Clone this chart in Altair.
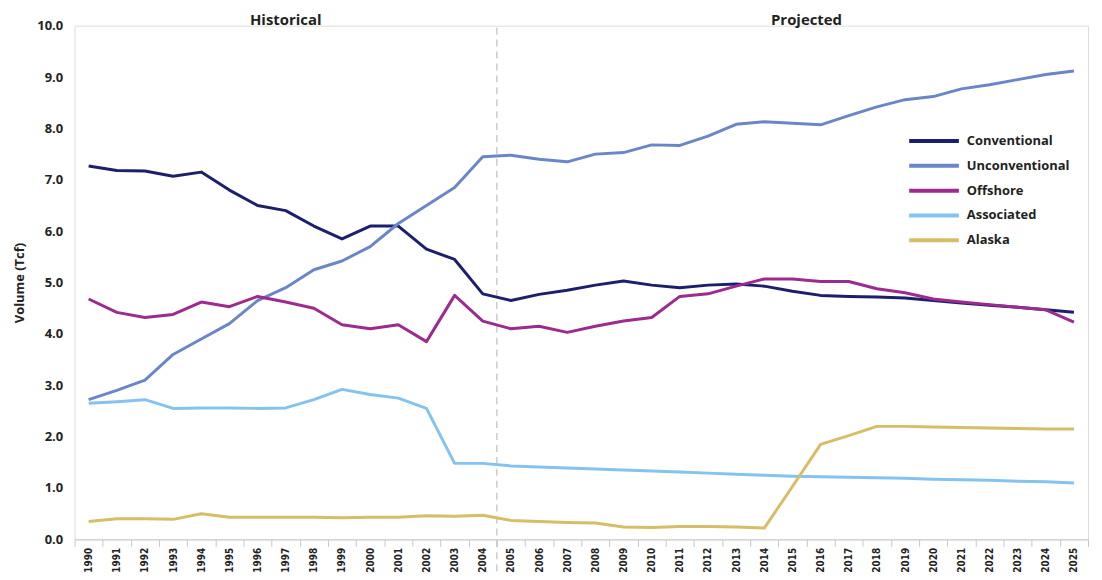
import altair as alt
import pandas as pd

years = [str(y) for y in range(1990, 2026)]

conventional = [7.27, 7.18, 7.17, 7.07, 7.15, 6.80, 6.50, 6.40, 6.10, 5.85, 6.10, 6.10,
                5.65, 5.45, 4.78, 4.65, 4.77, 4.85, 4.95, 5.03, 4.95, 4.90, 4.95, 4.97,
                4.93, 4.83, 4.75, 4.73, 4.72, 4.70, 4.65, 4.60, 4.56, 4.52, 4.47, 4.42]
unconventional = [2.72, 2.90, 3.10, 3.60, 3.90, 4.20, 4.65, 4.90, 5.25, 5.42, 5.70, 6.15,
                  6.50, 6.85, 7.45, 7.48, 7.40, 7.35, 7.50, 7.53, 7.68, 7.67, 7.85, 8.08,
                  8.13, 8.10, 8.07, 8.25, 8.42, 8.56, 8.62, 8.77, 8.85, 8.95, 9.05, 9.12]
offshore = [4.68, 4.42, 4.32, 4.38, 4.62, 4.53, 4.73, 4.62, 4.50, 4.18, 4.10, 4.18,
            3.85, 4.75, 4.25, 4.10, 4.15, 4.03, 4.15, 4.25, 4.32, 4.73, 4.78, 4.93,
            5.07, 5.07, 5.02, 5.02, 4.88, 4.80, 4.68, 4.62, 4.57, 4.52, 4.47, 4.23]
associated = [2.65, 2.68, 2.72, 2.55, 2.56, 2.56, 2.55, 2.56, 2.72, 2.92, 2.82, 2.75,
              2.55, 1.48, 1.48, 1.43, 1.41, 1.39, 1.37, 1.35, 1.33, 1.31, 1.29, 1.27,
              1.25, 1.23, 1.22, 1.21, 1.20, 1.19, 1.17, 1.16, 1.15, 1.13, 1.12, 1.10]
alaska = [0.35, 0.40, 0.40, 0.39, 0.50, 0.43, 0.43, 0.43, 0.43, 0.42, 0.43, 0.43,
          0.46, 0.45, 0.47, 0.37, 0.35, 0.33, 0.32, 0.24, 0.23, 0.25, 0.25, 0.24,
          0.22, 1.03, 1.85, 2.02, 2.20, 2.20, 2.19, 2.18, 2.17, 2.16, 2.15, 2.15]

series_names = ["Conventional", "Unconventional", "Offshore", "Associated", "Alaska"]
series_colors = ["#1c1f6b", "#6a86c9", "#9c2a8f", "#84c3ef", "#d6bd66"]
series_values = [conventional, unconventional, offshore, associated, alaska]

period_labels = ["Historical", "Projected"]
period_anchor = ["1997", "2016"]
divider_year = ["2005"]

rows = []
for name, vals in zip(series_names, series_values):
    for y, v in zip(years, vals):
        rows.append({"year": y, "value": v, "series": name})
df = pd.DataFrame(rows)

FONT = "Open Sans"
xscale = alt.Scale(type="band", domain=years, paddingInner=0, paddingOuter=0)

lines = alt.Chart(df).mark_line(strokeWidth=3, strokeJoin="round").encode(
    x=alt.X("year:O", scale=xscale, bandPosition=0.5,
            axis=alt.Axis(title=None, labelAngle=270, tickBand="extent",
                          labelFont="DejaVu Sans Condensed", labelFontWeight="bold",
                          labelFontSize=10, labelColor="#222222", labelPadding=1,
                          domainColor="#c8c8c8", tickColor="#c8c8c8", tickSize=7,
                          labelAlign="right", labelBaseline="middle")),
    y=alt.Y("value:Q", scale=alt.Scale(domain=[0, 10], nice=False),
            axis=alt.Axis(title="Volume (Tcf)", values=list(range(0, 11)), format=".1f",
                          domain=False, ticks=False, grid=False, labelPadding=12,
                          labelFont=FONT, labelFontWeight="bold", labelFontSize=13,
                          labelColor="#222222", titleFont=FONT, titleFontWeight="bold",
                          titleFontSize=13, titleColor="#222222", titlePadding=10)),
    color=alt.Color("series:N",
                    scale=alt.Scale(domain=series_names, range=series_colors),
                    legend=alt.Legend(title=None, orient="none", legendX=838, legendY=108,
                                      symbolType="stroke", symbolStrokeWidth=4,
                                      symbolSize=2500, clipHeight=16, labelFont=FONT,
                                      labelFontWeight="bold", labelFontSize=13,
                                      labelColor="#222222", rowPadding=9,
                                      labelOffset=6)),
)

rule_df = pd.DataFrame({"year": divider_year})
rule = alt.Chart(rule_df).mark_rule(color="#c4c4c4", strokeDash=[7, 5], strokeWidth=1.3).encode(
    x=alt.X("year:O", scale=xscale, bandPosition=0),
    y=alt.value(2),
    y2=alt.value(560),
)

text_df = pd.DataFrame({"label": period_labels, "year": period_anchor})
t1 = alt.Chart(text_df.iloc[[0]]).mark_text(font=FONT, fontWeight="bold", fontSize=15,
                                            color="#222222", baseline="middle").encode(
    x=alt.X("year:O", scale=xscale, bandPosition=0.5),
    y=alt.value(-6),
    text="label:N",
)
t2 = alt.Chart(text_df.iloc[[1]]).mark_text(font=FONT, fontWeight="bold", fontSize=15,
                                            color="#222222", baseline="middle").encode(
    x=alt.X("year:O", scale=xscale, bandPosition=0),
    y=alt.value(-6),
    text="label:N",
)

chart = alt.layer(rule, lines, t1, t2).properties(
    width=1020, height=517,
    padding={"left": 67, "top": 16, "right": 6, "bottom": 31},
    autosize=alt.AutoSizeParams(type="none"),
).configure_view(stroke=None).configure(background="white")

chart.save("out.html", embed_options={"renderer": "svg", "actions": False})
